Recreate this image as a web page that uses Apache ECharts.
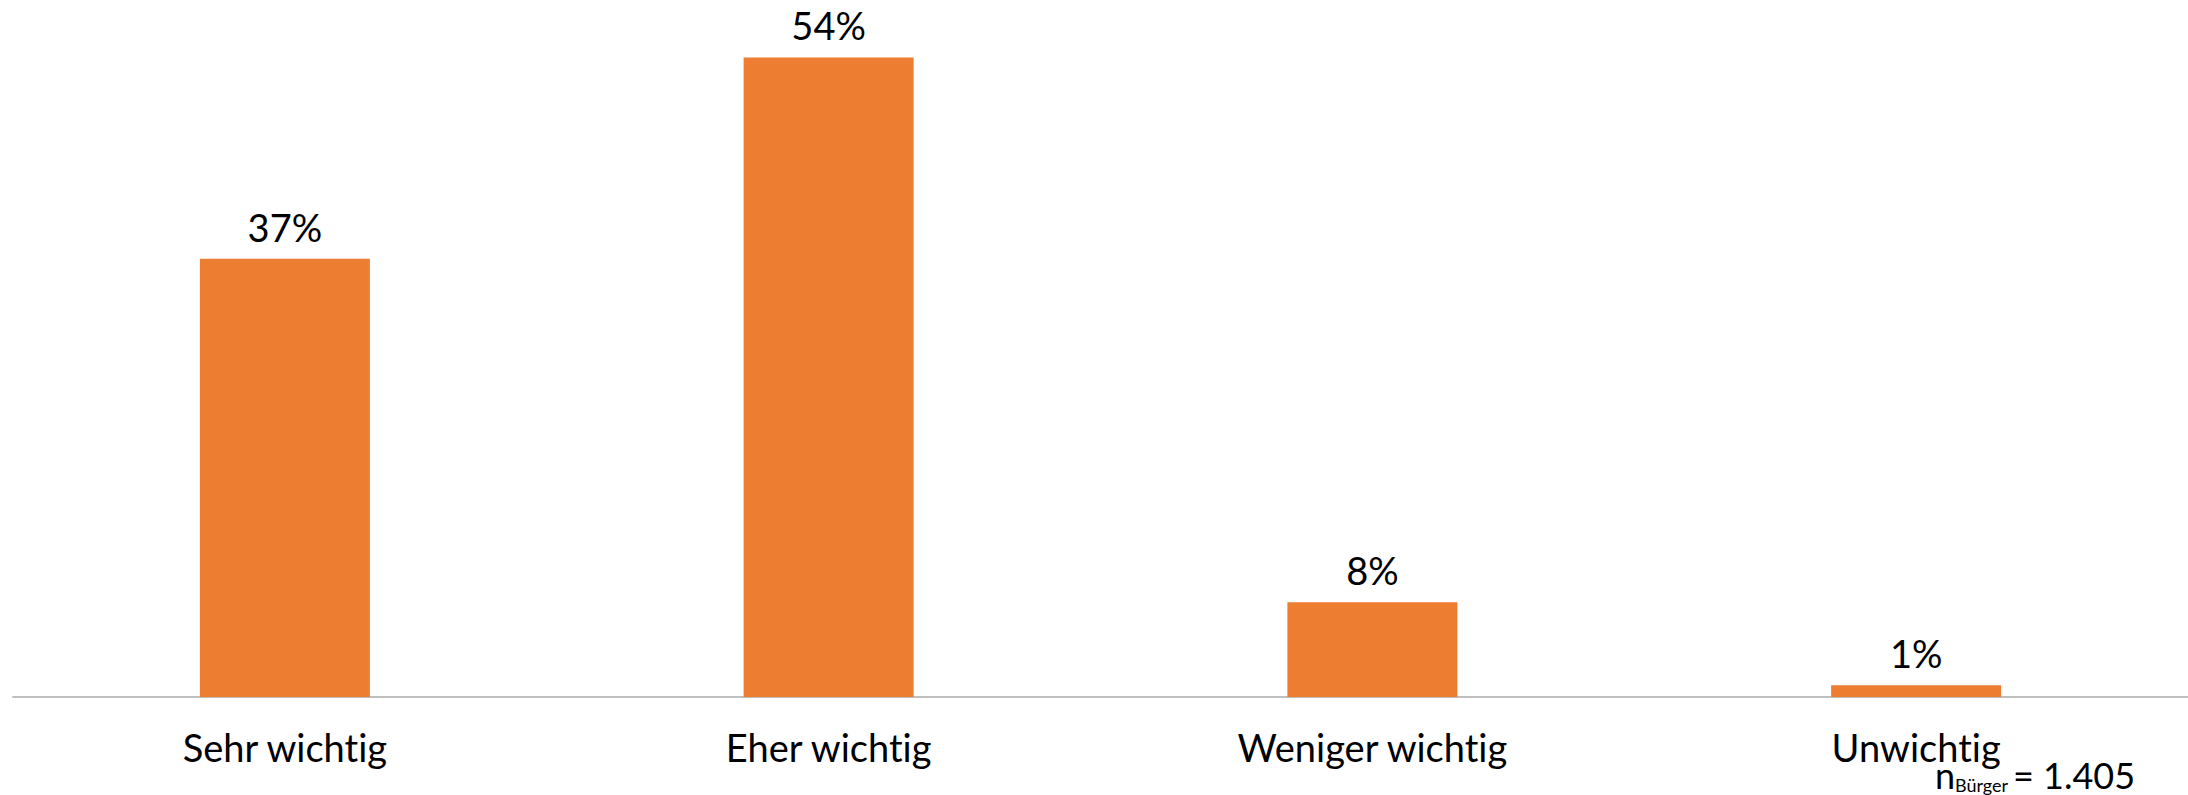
<!DOCTYPE html>
<html>
<head>
<meta charset="utf-8">
<script src="https://cdn.jsdelivr.net/npm/echarts@6/dist/echarts.min.js"></script>
<style>
  html, body { margin: 0; padding: 0; background: #fff; }
  #barChart { width: 2188px; height: 795px; }
  /* the source chart has no "ti" ligature */
  #barChart text {
    font-variant-ligatures: none;
    font-feature-settings: "liga" 0, "dlig" 0, "clig" 0;
  }
</style>
</head>
<body>
<div id="barChart"></div>
<script>
const categories = ["Sehr wichtig", "Eher wichtig", "Weniger wichtig", "Unwichtig"];
const shares = [37, 54, 8, 1];
const sampleNote = { base: "n", sub: "Bürger", rest: "= 1.405" };

const barChart = echarts.init(document.getElementById("barChart"), null, {
  renderer: "svg",
});

const option = {
  animation: false,
  grid: {
    left: 13,
    right: 0,
    top: 10,
    bottom: 98,
    containLabel: false,
  },
  xAxis: {
    type: "category",
    data: categories,
    axisLine: { lineStyle: { color: "#bfbfbf", width: 2 } },
    axisTick: { show: false },
    axisLabel: {
      color: "#000",
      fontFamily: "Lato",
      fontSize: 38,
      margin: 31,
    },
  },
  yAxis: {
    type: "value",
    min: 0,
    max: 58,
    show: false,
    splitLine: { show: false },
  },
  series: [
    {
      type: "bar",
      data: shares,
      barWidth: 170,
      itemStyle: { color: "#ED7D31" },
      label: {
        show: true,
        position: "top",
        distance: 13,
        color: "#000",
        fontFamily: "Lato",
        fontSize: 38,
        formatter: "{c}%",
      },
    },
  ],
  graphic: [
    {
      type: "text",
      left: 1935,
      top: 757,
      style: { text: sampleNote.base, font: "36px Lato", fill: "#000" },
    },
    {
      type: "text",
      left: 1955,
      top: 776,
      style: { text: sampleNote.sub, font: "18px Lato", fill: "#000" },
    },
    {
      type: "text",
      left: 2013,
      top: 757,
      style: { text: sampleNote.rest, font: "36px Lato", fill: "#000" },
    },
  ],
};

barChart.setOption(option);
</script>
</body>
</html>
